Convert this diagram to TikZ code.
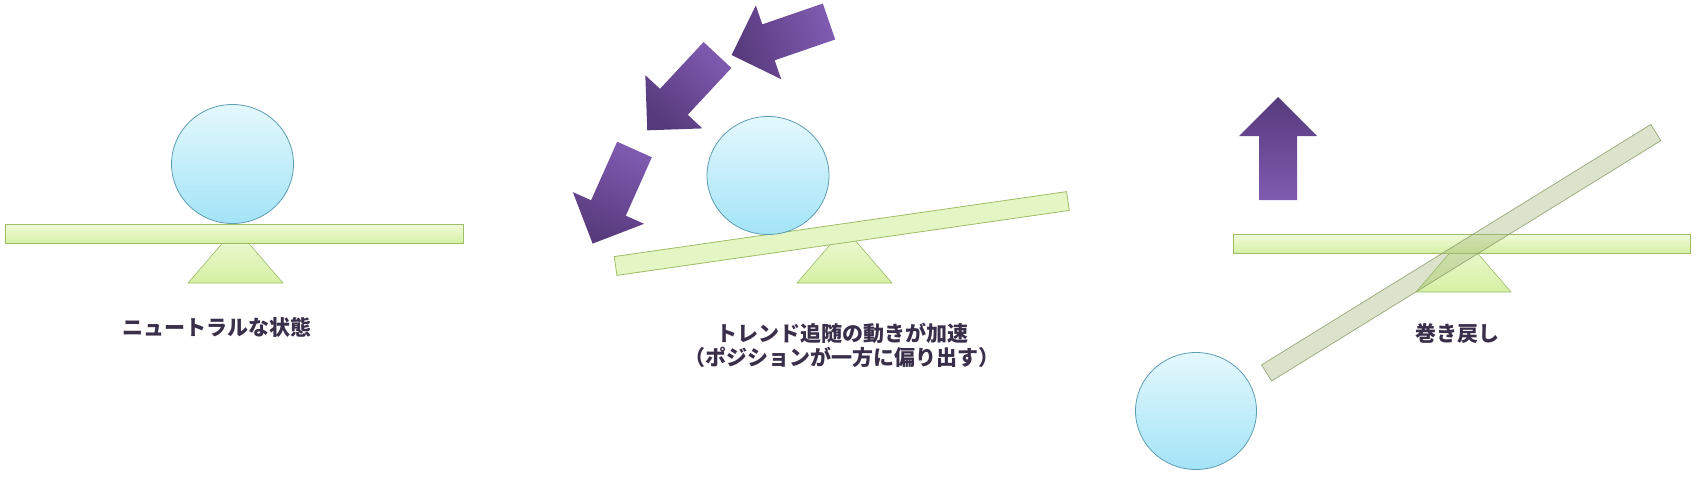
\documentclass[tikz,border=0pt]{standalone}
\usepackage{fontspec}
\newfontfamily\jpfont{Noto Sans CJK JP}

\definecolor{balltop}{HTML}{E4F8FD}
\definecolor{ballbottom}{HTML}{A3E4F7}
\definecolor{ballline}{HTML}{5E9DB1}
\definecolor{planktop}{HTML}{F1FBDC}
\definecolor{plankbottom}{HTML}{D5F0A4}
\definecolor{plankline}{HTML}{9CBC66}
\definecolor{ghostfill}{HTML}{9AAE70}
\definecolor{ghostline}{HTML}{8C9F68}
\definecolor{arrowdark}{HTML}{573A7C}
\definecolor{arrowlight}{HTML}{7F5BB0}
\definecolor{captioncol}{HTML}{3A2F4A}

\tikzset{
  ball/.style={draw=ballline, line width=0.8pt, top color=balltop, bottom color=ballbottom},
  plank/.style={draw=plankline, line width=0.8pt, top color=planktop, bottom color=plankbottom},
  tiltplank/.style={draw=plankline, line width=0.8pt, fill=planktop!55!plankbottom},
  ghostplank/.style={draw=ghostline, line width=0.8pt, fill=ghostfill, fill opacity=0.35, draw opacity=0.8},
  pivot/.style={draw=plankline, line width=0.6pt, top color=planktop, bottom color=plankbottom},
  caption/.style={font=\jpfont\bfseries\fontsize{21}{24}\selectfont, text=captioncol, align=center, inner sep=0pt},
}

\newcommand{\fatarrow}[3][]{%
  \pgfmathsetmacro\shadeang{#3-90}%
  \shade[top color=arrowdark, bottom color=arrowlight, shading angle=\shadeang, shift={#2}, rotate=#3, #1]
    (0,-19) -- (64,-19) -- (64,-39) -- (103,0) -- (64,39) -- (64,19) -- (0,19) -- cycle;}

\begin{document}
\begin{tikzpicture}[x=1pt, y=-1pt]
    \useasboundingbox (0,0) rectangle (1696,477);

    \draw[pivot] (188,283) -- (235.5,228) -- (283,283) -- cycle;
    \draw[plank] (5,224) rectangle (463,243);
    \draw[ball] (232.5,164) ellipse (61 and 59.5);
    \node[caption] (neutral) at (217,327) {ニュートラルな状態};

    \draw[pivot] (797,283) -- (844.5,228) -- (892,283) -- cycle;
    \draw[tiltplank, shift={(841.75,233.5)}, rotate=8.17] (-228.5,-9.5) rectangle (228.5,9.5);
    \draw[ball] (768,175.5) ellipse (61 and 59);
    \fatarrow{(829,21.5)}{199}
    \fatarrow{(717.5,55)}{227}
    \fatarrow{(634.5,149.5)}{246}
    \node[caption] (accel) at (842,345) {トレンド追随の動きが加速\\（ポジションが一方に偏り出す）};

    \draw[pivot] (1416,292) -- (1463.5,237) -- (1511,292) -- cycle;
    \draw[plank] (1233,234) rectangle (1690,253);
    \draw[ghostplank, shift={(1461.2,252.75)}, rotate=31.7] (-228.8,-9.5) rectangle (228.8,9.5);
    \fatarrow{(1278,200)}{90}
    \draw[ball] (1196,411) ellipse (60.5 and 58.5);
    \node[caption] (unwind) at (1457,334) {巻き戻し};
\end{tikzpicture}
\end{document}
